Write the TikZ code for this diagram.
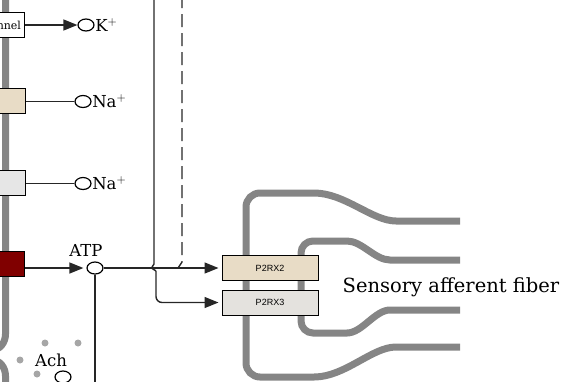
\documentclass[tikz,border=0pt]{standalone}
\usepackage{fontspec}
\setmainfont{DejaVu Serif}
\newfontfamily\genefont{Liberation Sans}
\usetikzlibrary{arrows.meta,positioning,shapes.geometric}
\definecolor{tanbox}{HTML}{E8DCC6}
\definecolor{greybox}{HTML}{E4E2DE}
\definecolor{lightbox}{HTML}{E6E6E6}
\definecolor{darkred}{HTML}{800000}
\definecolor{membrane}{HTML}{858585}

\begin{document}
\begin{tikzpicture}[x=1pt, y=-1pt,
    font=\fontsize{16.5}{18}\selectfont,
    gene/.style={draw, line width=1pt, inner sep=2pt, minimum width=96pt, minimum height=25pt, font=\genefont\fontsize{9}{10}\selectfont},
    leftgene/.style={draw, line width=1pt, anchor=east, minimum width=44pt, minimum height=25pt, inner sep=3.5pt},
    cpd/.style={draw, ellipse, fill=white, line width=1.2pt, inner sep=0pt, minimum width=16pt, minimum height=12pt},
    memb/.style={draw=membrane, line width=7pt},
    link/.style={line width=1.4pt, draw=black!85},
    arrow/.style={link, -{Triangle[length=14pt,width=11pt]}},
    dot/.style={circle, fill=black!35, inner sep=0pt, minimum size=7pt}
]
\useasboundingbox (0,0) rectangle (561,381);
\clip (0,0) rectangle (561,381);

\draw[memb] (5.5,-10) -- (5.5,334) to[out=270,in=0] (-8,350);
\draw[memb] (-8,360) to[out=0,in=90] (5.5,376) -- (5.5,395);

\draw[memb, rounded corners=14pt] (460,221) -- (410,221) .. controls (372,221) and (345,193) .. (300,193) -- (246,193) -- (246,377) -- (300,377) .. controls (345,377) and (372,347) .. (410,347) -- (460,347);
\draw[memb, rounded corners=12pt] (460,260) -- (402,260) .. controls (375,260) and (362,241) .. (335,241) -- (301,241) -- (301,333) -- (335,333) .. controls (362,333) and (375,310) .. (402,310) -- (460,310);

\node[leftgene, fill=white, font=\fontsize{11}{13}\selectfont] (kchan) at (25,25) {channel};
\node[leftgene, fill=tanbox] (nach1) at (26,100.5) {};
\node[leftgene, fill=lightbox] (nach2) at (26,182.5) {};
\node[leftgene, fill=darkred] (atpch) at (25,264) {};

\node[cpd] (kion) at (86,25) {};
\node[right=0.5pt of kion, inner sep=0pt] (klab) {K$^+$};
\node[cpd] (na1) at (83,101.5) {};
\node[right=0.5pt of na1, inner sep=0pt] (na1lab) {Na$^+$};
\node[cpd] (na2) at (83,183.5) {};
\node[right=0.5pt of na2, inner sep=0pt] (na2lab) {Na$^+$};
\node[cpd] (atp) at (95,268) {};
\node (atplab) at (86,250) {ATP};
\node[cpd] (ach) at (63,377) {};
\node (achlab) at (51,360) {Ach};

\node[dot] (d1) at (45,343) {};
\node[dot] (d2) at (78,343) {};
\node[dot] (d3) at (20,360) {};
\node[dot] (d4) at (37,374) {};

\node[gene, fill=tanbox] (p2rx2) at (270,268) {P2RX2};
\node[gene, fill=greybox] (p2rx3) at (270,302.5) {P2RX3};
\node[font=\fontsize{19.5}{21}\selectfont] (fiber) at (451,287) {Sensory afferent fiber};

\coordinate (atpend) at (95,390);
\coordinate (soltop) at (154,-5);
\coordinate (solbend) at (156,271);
\coordinate (dashtop) at (182,-5);

\draw[arrow] (kchan) -- (kion);
\draw[link] (nach1.east |- na1) -- (na1);
\draw[link] (nach2.east |- na2) -- (na2);
\draw[arrow, shorten >=3pt] (atpch.east |- atp) -- (atp);
\draw[link] (atp) -- (atpend);
\draw[arrow, shorten >=3pt] (atp) -- (p2rx2);
\draw[link] (soltop) -- (154,264) -- (151.5,268) -- (solbend);
\draw[arrow, shorten >=3pt, rounded corners=6pt] (solbend) |- (p2rx3);
\draw[link, dash pattern=on 13pt off 6pt] (dashtop) -- (182,262) -- (178,268);
\end{tikzpicture}
\end{document}
